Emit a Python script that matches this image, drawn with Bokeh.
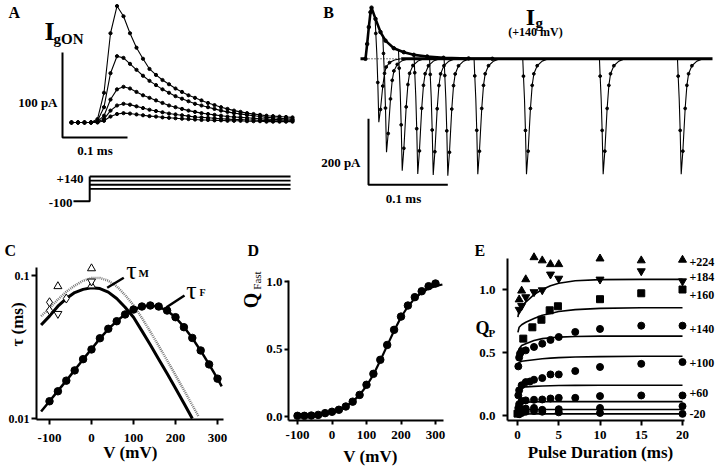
import numpy as np
from bokeh.plotting import figure
from bokeh.layouts import column, row
from bokeh.models import Label, Range1d, FixedTicker
from bokeh.embed import file_html
from bokeh.resources import INLINE

SERIF = "Liberation Serif"

# ======================= DATA =======================
# Panel A: ON gating currents (pA) vs time (ms)
A_T = [0.00, 0.01, 0.02, 0.03, 0.04, 0.05, 0.06, 0.07, 0.08, 0.09,
       0.10, 0.11, 0.12, 0.13, 0.14, 0.15, 0.16, 0.17, 0.18, 0.19,
       0.20, 0.21, 0.22, 0.23, 0.24, 0.25, 0.26, 0.27, 0.28, 0.29,
       0.30, 0.31, 0.32, 0.33, 0.34]
A_I1 = [0, 0, 0, 0, 4, 35, 105, 137, 125, 105, 88, 75, 63, 56, 50, 45, 40, 36, 32, 29,
        26, 23, 20.5, 18, 16, 14, 12.5, 11, 10, 9, 8, 7.5, 7, 6.5, 6]
A_I2 = [0, 0, 0, 0, 2, 18, 58, 78, 76, 69, 62, 55, 49, 44, 39, 35, 31, 28, 25, 22,
        20, 18, 16, 14, 12.5, 11, 10, 9, 8, 7, 6, 5.5, 5, 4.5, 4]
A_I3 = [0, 0, 0, 0, 1, 8, 27, 39, 42, 40, 36, 32, 29, 26, 23, 20, 18, 16, 14, 12.5,
        11, 10, 9, 8, 7, 6.5, 6, 5.5, 5, 4.5, 4, 3.5, 3.5, 3, 3]
A_I4 = [0, 0, 0, 0, 0.5, 4, 14, 20, 22, 21, 19, 17, 15, 13.5, 12, 10.5, 9.5, 8.5, 7.5, 6.5,
        6, 5.5, 5, 4.5, 4, 3.5, 3.5, 3, 3, 2.5, 2.5, 2, 2, 2, 2]
A_I5 = [0, 0, 0, 0, 0, 2, 7, 10, 11, 10.5, 9.5, 8.5, 7.5, 7, 6, 5.5, 5, 4.5, 4, 3.5,
        3, 3, 2.5, 2.5, 2, 2, 2, 1.5, 1.5, 1.5, 1, 1, 1, 1, 1]
A_TRACES = [A_I1, A_I2, A_I3, A_I4, A_I5]
A_V_HOLD = -100
A_V_STEPS = [140, 100, 60, 20]
A_T_PRE, A_T_STEP, A_T_END = 0.003, 0.028, 0.337
A_SCALE_MS, A_SCALE_PA = 0.1, 100

# Panel B: Ig at +140 mV, ON transient and OFF transients (pA vs ms)
B_ON_T = [0.0, 0.0021, 0.0042, 0.0063, 0.0076, 0.0126, 0.0189, 0.0252, 0.0357,
          0.0483, 0.0609, 0.0778, 0.0984, 0.13, 0.16]
B_ON_I = [0, 45, 96, 141, 155, 121, 81, 55, 32, 20, 12, 7, 3, 1, 0]
B_OFF_T = [0.0168, 0.0265, 0.0463, 0.0659, 0.0854, 0.1038, 0.1416, 0.2030, 0.2997, 0.3981]
B_OFF_PEAK = [-192, -283, -339, -349, -352, -354, -350, -350, -350, -350]
B_SPK_DT = [-0.0047, -0.0038, -0.0025, -0.0013, 0.0, 0.0021, 0.0050, 0.0072,
            0.0093, 0.0135, 0.0198, 0.0277]
B_SPK_SHAPE = [0.0, 0.15, 0.35, 0.62, 1.0, 0.80, 0.43, 0.23, 0.13, 0.06, 0.02, 0.0]
B_SCALE_MS, B_SCALE_PA = 0.1, 200

# Panel C: time constants (ms) vs V (mV)
C_V = [-100, -80, -60, -40, -20, 0, 20, 40, 60, 80, 100, 120, 140, 160, 180, 200,
       220, 240, 260, 280, 300]
C_TAU_F = [0.0132, 0.0155, 0.0184, 0.0217, 0.0260, 0.0304, 0.0364, 0.0424, 0.0479,
           0.0534, 0.0578, 0.0607, 0.0617, 0.0607, 0.0569, 0.0511, 0.0435, 0.0366,
           0.0299, 0.0239, 0.0190]
C_FIT_F_V = [-120, -100, -80, -60, -40, -20, 0, 20, 40, 60, 80, 100, 120, 140, 160,
             180, 200, 220, 240, 260, 280, 300, 310]
C_FIT_F = [0.0112, 0.0132, 0.0156, 0.0184, 0.0218, 0.0259, 0.0306, 0.0362, 0.0422,
           0.0480, 0.0533, 0.0576, 0.0606, 0.0616, 0.0604, 0.0567, 0.0510, 0.0437,
           0.0365, 0.0298, 0.0239, 0.0190, 0.0168]
C_FIT_M_V = [-120, -100, -80, -60, -40, -20, 0, 20, 40, 60, 80, 100, 120, 140, 160,
             180, 200, 220, 240]
C_FIT_M = [0.045, 0.052, 0.061, 0.069, 0.076, 0.080, 0.082, 0.081, 0.0765, 0.069,
           0.060, 0.051, 0.041, 0.0328, 0.026, 0.0206, 0.0163, 0.0128, 0.0100]
C_FIT_M2_V = [-120, -100, -80, -60, -40, -20, 0, 20, 40, 60, 80, 100, 120, 140, 160,
              180, 200, 220, 240, 255]
C_FIT_M2 = [0.052, 0.059, 0.068, 0.077, 0.085, 0.092, 0.096, 0.096, 0.092, 0.084,
            0.073, 0.062, 0.0505, 0.0405, 0.0322, 0.0255, 0.0201, 0.0158, 0.0124, 0.0103]
C_UP_V, C_UP = [-80, 0, 0], [0.084, 0.112, 0.085]
C_DN_V, C_DN = [-80, 0], [0.054, 0.091]
C_DIA_V, C_DIA = [-100, -100, -60], [0.065, 0.057, 0.069]

# Panel D: Q_Fast vs V (mV)
D_V = [-100, -80, -60, -40, -20, 0, 20, 40, 60, 80, 100, 120, 140, 160, 180, 200,
       220, 240, 260, 280, 300]
D_Q = [0.005, 0.005, 0.007, 0.012, 0.025, 0.035, 0.050, 0.074, 0.110, 0.160, 0.235,
       0.316, 0.420, 0.530, 0.642, 0.740, 0.822, 0.884, 0.928, 0.965, 0.985]
D_FIT_V = [-110, -100, -80, -60, -40, -20, 0, 20, 40, 60, 80, 100, 120, 140, 160, 180,
           200, 220, 240, 260, 280, 300, 320]
D_FIT = [0.003, 0.004, 0.006, 0.009, 0.014, 0.022, 0.033, 0.050, 0.075, 0.110, 0.160,
         0.226, 0.310, 0.415, 0.525, 0.635, 0.735, 0.815, 0.875, 0.918, 0.948, 0.966, 0.978]

# Panel E: Q_P vs pulse duration (ms)
E_UP_T = [0.2, 0.5, 1, 2, 3, 4, 5, 10, 15, 20]
E_UP = [0.92, 0.99, 1.08, 1.255, 1.23, 1.20, 1.20, 1.245, 1.23, 1.235]
E_DN_T = [0.2, 0.5, 1, 2, 3, 4, 5, 10, 15, 20]
E_DN = [0.84, 0.87, 0.94, 0.98, 0.995, 1.12, 1.087, 1.08, 1.146, 1.066]
E_SQ_T = [0, 0.7, 1.8, 2.9, 3.9, 4.9, 10, 15, 20]
E_SQ = [0.015, 0.61, 0.70, 0.76, 0.835, 0.867, 0.923, 0.97, 1.0]
E_C140_T = [0.1, 0.2, 0.3, 0.5, 1, 2, 3, 4, 5, 7, 10, 15, 20]
E_C140 = [0.39, 0.46, 0.49, 0.51, 0.517, 0.544, 0.57, 0.60, 0.623, 0.663, 0.687, 0.713, 0.713]
E_C100_T = [0.1, 0.2, 0.5, 1, 1.5, 2, 3, 4, 5, 7, 10, 15, 20]
E_C100 = [0.16, 0.20, 0.24, 0.265, 0.27, 0.284, 0.297, 0.326, 0.326, 0.353, 0.385, 0.41, 0.424]
E_C60_T = [0.1, 0.2, 0.5, 1, 2, 3, 4, 5, 7, 10, 15, 20]
E_C60 = [0.06, 0.09, 0.115, 0.12, 0.125, 0.127, 0.135, 0.14, 0.14, 0.154, 0.159, 0.159]
E_C20_T = [0.2, 0.5, 1, 2, 3, 5, 10, 20]
E_C20 = [0.03, 0.05, 0.055, 0.06, 0.045, 0.05, 0.06, 0.074]
E_CM20_T = [0.2, 0.5, 1, 2, 3, 5, 10, 20]
E_CM20 = [0.01, 0.02, 0.03, 0.035, 0.03, 0.025, 0.02, 0.013]
E_FIT_T = [0.05, 0.2, 0.5, 1, 2, 3, 4, 5, 7, 10, 15, 20]
E_FITS = [
    [0.78, 0.84, 0.87, 0.90, 0.96, 1.00, 1.03, 1.05, 1.07, 1.078, 1.08, 1.08],
    [0.66, 0.70, 0.72, 0.74, 0.77, 0.795, 0.81, 0.825, 0.84, 0.85, 0.855, 0.855],
    [0.50, 0.53, 0.555, 0.57, 0.595, 0.61, 0.617, 0.622, 0.627, 0.63, 0.63, 0.63],
    [0.41, 0.42, 0.43, 0.435, 0.443, 0.45, 0.455, 0.459, 0.464, 0.467, 0.47, 0.47],
    [0.21, 0.218, 0.224, 0.227, 0.231, 0.234, 0.236, 0.238, 0.239, 0.24, 0.24, 0.24],
    [0.095, 0.10, 0.104, 0.106, 0.108, 0.109, 0.11, 0.11, 0.11, 0.11, 0.11, 0.11],
    [0.040, 0.043, 0.045, 0.046, 0.047, 0.048, 0.048, 0.048, 0.048, 0.048, 0.048, 0.048],
    [0.010, 0.011, 0.012, 0.012, 0.013, 0.013, 0.013, 0.013, 0.013, 0.013, 0.013, 0.013],
]
E_LABELS = ["+224", "+184", "+160", "+140", "+100", "+60", "-20"]
E_LABEL_Y = [1.215, 1.096, 0.96, 0.687, 0.415, 0.179, 0.013]


# ======================= HELPERS =======================
def base_fig(w, h, xr, yr, axes, y_log=False):
    p = figure(width=w, height=h, x_range=Range1d(*xr), y_range=Range1d(*yr),
               y_axis_type="log" if y_log else "linear",
               x_axis_location="below" if axes else None,
               y_axis_location="left" if axes else None,
               toolbar_location=None, output_backend="svg", title=None,
               min_border=0)
    p.xgrid.visible = False
    p.ygrid.visible = False
    p.outline_line_color = None
    return p


def txt(p, x, y, s, size, style="bold", align="center", base="middle", angle=0,
        y_range_name="default"):
    p.add_layout(Label(x=x, y=y, text=s, text_font=SERIF, text_font_size=f"{size}px",
                       text_font_style=style, text_align=align, text_baseline=base,
                       angle=angle, text_color="black", y_range_name=y_range_name))


def style_axes(p, xt, xl, yt, yl, xstand, ystand, xloc, yloc, xb, yb,
               xsize=13, ysize=13, tick_out=5):
    p.xaxis.ticker = FixedTicker(ticks=xt)
    p.xaxis.major_label_overrides = dict(zip(xt, xl))
    p.yaxis.ticker = FixedTicker(ticks=yt)
    p.yaxis.major_label_overrides = dict(zip(yt, yl))
    p.xaxis.fixed_location = xloc
    p.yaxis.fixed_location = yloc
    p.xaxis.bounds = xb
    p.yaxis.bounds = yb
    for ax in list(p.xaxis) + list(p.yaxis):
        ax.axis_line_width = 2
        ax.axis_line_color = "black"
        ax.major_tick_line_width = 2
        ax.major_tick_line_color = "black"
        ax.major_tick_in = 0
        ax.major_tick_out = tick_out
        ax.minor_tick_line_color = None
        ax.major_label_text_font = SERIF
        ax.major_label_text_font_style = "bold"
        ax.major_label_text_color = "black"
    p.xaxis.major_label_text_font_size = f"{xsize}px"
    p.yaxis.major_label_text_font_size = f"{ysize}px"
    p.xaxis.major_label_standoff = xstand
    p.yaxis.major_label_standoff = ystand


# The page is drawn at (0, 0); reference pixels map 1:1 to page pixels.
TOP_Y0, TOP_H = 0, 212
BOT_Y0, BOT_H = 212, 255

# ======================= PANEL A =======================
AX0, AW = 0, 300
A_TPX, A_MSPX, A_IPX, A_PAPX = 71.0, 650.0, 122.0, 0.85
A_VPX, A_MVPX = 200.7, 0.1029
a_x = lambda rx: (rx - A_TPX) / A_MSPX
a_y = lambda ry: (A_IPX - ry) / A_PAPX
a_v = lambda ry: A_V_HOLD + (A_VPX - ry) / A_MVPX

pA = base_fig(AW, TOP_H, (a_x(AX0), a_x(AX0 + AW)), (a_y(TOP_Y0 + TOP_H), a_y(TOP_Y0)), False)
pA.extra_y_ranges = {"mV": Range1d(a_v(TOP_Y0 + TOP_H), a_v(TOP_Y0))}
for tr in A_TRACES:
    pA.line(A_T, tr, line_width=1.1, line_color="black")
    pA.scatter(A_T, tr, size=3.2, color="black")
pA.line([A_T_PRE, A_T_STEP, A_T_STEP], [A_V_HOLD, A_V_HOLD, max(A_V_STEPS)],
        y_range_name="mV", line_width=2, line_color="black")
for v in A_V_STEPS:
    pA.line([A_T_STEP, A_T_END], [v, v], y_range_name="mV", line_width=1.8, line_color="black")
sx, sy = a_x(62), a_y(137)
pA.line([sx, sx, sx + A_SCALE_MS], [sy + A_SCALE_PA, sy, sy], line_width=2, line_color="black")
txt(pA, a_x(8), a_y(12), "A", 16, align="left")
txt(pA, a_x(49), a_y(31), "I", 26)
txt(pA, a_x(53), a_y(38), "gON", 15, align="left")
txt(pA, a_x(57), a_y(101.5), "100 pA", 13, align="right")
txt(pA, a_x(94.5), a_y(150), "0.1 ms", 13)
txt(pA, a_x(83), a_v(178), "+140", 13, align="right", y_range_name="mV")
txt(pA, a_x(72), a_v(202), "-100", 13, align="right", y_range_name="mV")

# ======================= PANEL B =======================
BX0, BW = 300, 420
B_TPX, B_MSPX, B_IPX, B_PAPX = 365.0, 793.0, 58.3, 0.33
b_x = lambda rx: (rx - B_TPX) / B_MSPX
b_y = lambda ry: (B_IPX - ry) / B_PAPX

pB = base_fig(BW, TOP_H, (b_x(BX0), b_x(BX0 + BW)), (b_y(TOP_Y0 + TOP_H), b_y(TOP_Y0)), False)
pB.line([b_x(360), 0], [0, 0], line_width=3, line_color="black")
pB.line([0, 0.045], [0, 0], line_width=1, line_color="black", line_dash="1 2")
pB.line([0.045, b_x(712)], [0, 0], line_width=3, line_color="black")
pB.line(B_ON_T, B_ON_I, line_width=2.6, line_color="black")
pB.scatter(B_ON_T, B_ON_I, size=3.5, color="black")
on_t, on_i = np.array(B_ON_T), np.array(B_ON_I)
dt, shp = np.array(B_SPK_DT), np.array(B_SPK_SHAPE)
dot_idx = [1, 3, 5, 6, 7, 8, 9]
for t0, pk in zip(B_OFF_T, B_OFF_PEAK):
    start = np.interp(t0 + dt[0], on_t, on_i)
    vals = np.where(dt <= 0, start * (1 - shp) + pk * shp, pk * shp)
    tt = t0 + dt
    pB.line(tt, vals, line_width=1.1, line_color="black")
    pB.scatter(tt[dot_idx], vals[dot_idx], size=2.8, color="black")
sx, sy = b_x(368), b_y(184.3)
pB.line([sx, sx, sx + B_SCALE_MS], [sy + B_SCALE_PA, sy, sy], line_width=2, line_color="black")
txt(pB, b_x(328), b_y(12), "B", 16)
txt(pB, b_x(530), b_y(16), "I", 24)
txt(pB, b_x(535), b_y(22), "g", 15, align="left")
txt(pB, b_x(535), b_y(31), "(+140 mV)", 12)
txt(pB, b_x(360), b_y(162), "200 pA", 13, align="right")
txt(pB, b_x(403), b_y(198), "0.1 ms", 13)

# ======================= PANEL C =======================
CX0, CW = 0, 238
CL, CR, CT, CB = 36, 223, 267, 419
c_x = lambda rx: (rx - 91.0) / 0.42
c_y = lambda ry: 10 ** (-2 + (418.0 - ry) / 143.0)
pC = base_fig(CW, BOT_H, (c_x(CX0), c_x(CX0 + CW)), (c_y(BOT_Y0 + BOT_H), c_y(BOT_Y0)),
              True, y_log=True)
style_axes(pC, [-100, 0, 100, 200, 300], ["-100", "0", "100", "200", "300"],
           [0.01, 0.1], ["0.01", "0.1"], 9, 2,
           c_y(CB), c_x(CL), (c_x(CL), c_x(CR)), (c_y(CB), c_y(CT)), ysize=12)
pC.line(C_FIT_M2_V, C_FIT_M2, line_color="#777777", line_width=2.5, line_dash="1 1")
pC.line(C_FIT_M_V, C_FIT_M, line_color="black", line_width=3)
pC.line(C_FIT_F_V, C_FIT_F, line_color="black", line_width=2.5)
pC.scatter(C_V, C_TAU_F, size=7.5, color="black")
pC.scatter(C_UP_V, C_UP, marker="triangle", size=8, fill_color="white", line_color="black")
pC.scatter(C_DN_V, C_DN, marker="inverted_triangle", size=8, fill_color="white", line_color="black")
pC.scatter(C_DIA_V, C_DIA, marker="diamond", size=9, fill_color="white", line_color="black")
pC.line([c_x(106.7), c_x(123.3)], [c_y(287.3), c_y(277.3)], line_width=2.5, line_color="black")
pC.line([c_x(166), c_x(184)], [c_y(306.7), c_y(295)], line_width=2.5, line_color="black")
txt(pC, c_x(4), c_y(250), "C", 16, align="left")
txt(pC, c_x(17), c_y(324), "\u03c4 (ms)", 17, angle=np.pi / 2)
txt(pC, c_x(130), c_y(452), "V (mV)", 17)
txt(pC, c_x(131), c_y(270), "\u03c4", 26, style="normal")
txt(pC, c_x(138), c_y(272), "M", 11, align="left")
txt(pC, c_x(191), c_y(290), "\u03c4", 26, style="normal")
txt(pC, c_x(199), c_y(292), "F", 10, align="left")

# ======================= PANEL D =======================
DX0, DW = 238, 236
DL, DR, DT, DB = 288, 443, 280, 420
d_x = lambda rx: (rx - 331.5) / 0.345
d_y = lambda ry: (416.0 - ry) / 135.0
pD = base_fig(DW, BOT_H, (d_x(DX0), d_x(DX0 + DW)), (d_y(BOT_Y0 + BOT_H), d_y(BOT_Y0)), True)
style_axes(pD, [-100, 0, 100, 200, 300], ["-100", "0", "100", "200", "300"],
           [0, 0.5, 1.0], ["0.0", "0.5", "1.0"], 6, 2,
           d_y(DB), d_x(DL), (d_x(DL), d_x(DR)), (d_y(DB), d_y(DT)), tick_out=4)
pD.line(D_FIT_V, D_FIT, line_color="black", line_width=2.2)
pD.scatter(D_V, D_Q, size=7.5, color="black")
txt(pD, d_x(247), d_y(250), "D", 16, align="left")
txt(pD, d_x(250), d_y(300), "Q", 20, angle=np.pi / 2)
txt(pD, d_x(256), d_y(280), "Fast", 11, style="normal", angle=np.pi / 2)
txt(pD, d_x(370), d_y(456), "V (mV)", 17)

# ======================= PANEL E =======================
EX0, EW = 474, 246
EL, ER, ET, EB = 507, 684, 258, 420
e_x = lambda rx: (rx - 517.0) / 8.25
e_y = lambda ry: (415.0 - ry) / 126.0
pE = base_fig(EW, BOT_H, (e_x(EX0), e_x(EX0 + EW)), (e_y(BOT_Y0 + BOT_H), e_y(BOT_Y0)), True)
style_axes(pE, [0, 5, 10, 15, 20], ["0", "5", "10", "15", "20"],
           [0, 0.5, 1.0], ["0.0", "0.5", "1.0"], 5, 7,
           e_y(EB), e_x(EL), (e_x(EL), e_x(ER)), (e_y(EB), e_y(ET)))
for f in E_FITS:
    pE.line(E_FIT_T, f, line_color="black", line_width=1.6)
pE.scatter(E_UP_T, E_UP, marker="triangle", size=8, color="black")
pE.scatter(E_DN_T, E_DN, marker="inverted_triangle", size=8, color="black")
pE.scatter(E_SQ_T, E_SQ, marker="square", size=7, color="black")
for tt, yy in [(E_C140_T, E_C140), (E_C100_T, E_C100), (E_C60_T, E_C60),
               (E_C20_T, E_C20), (E_CM20_T, E_CM20)]:
    pE.scatter(tt, yy, size=7, color="black")
for lab, yv in zip(E_LABELS, E_LABEL_Y):
    txt(pE, e_x(689), yv, lab, 12, align="left")
txt(pE, e_x(474), e_y(250), "E", 16, align="left")
txt(pE, e_x(482), e_y(327), "Q", 18)
txt(pE, e_x(488), e_y(332), "P", 11, align="left")
txt(pE, e_x(600), e_y(452), "Pulse Duration (ms)", 17)

layout = column(row(pA, pB), row(pC, pD, pE))
open("out.html", "w").write(file_html(layout, INLINE))
